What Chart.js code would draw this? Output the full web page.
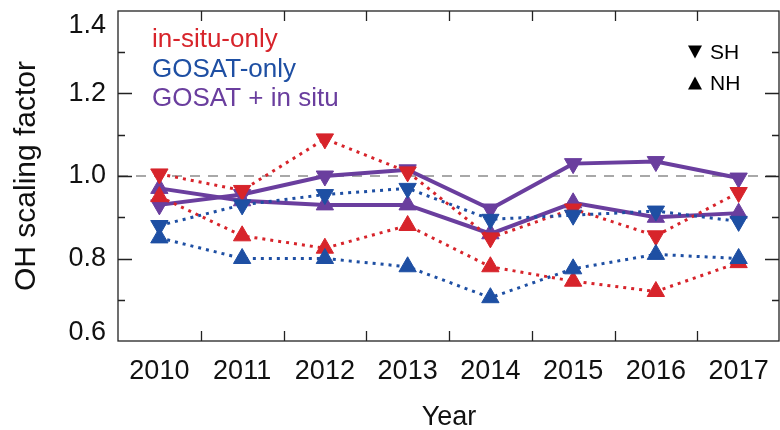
<!DOCTYPE html>
<html>
<head>
<meta charset="utf-8">
<title>OH scaling factor</title>
<script src="https://cdn.jsdelivr.net/npm/chart.js@4.4.1/dist/chart.umd.min.js"></script>
<style>
    html, body { margin: 0; padding: 0; background: #fff; }
    #wrap { width: 780px; height: 430px; }
</style>
</head>
<body>
<div id="wrap"><canvas id="oh-chart" width="780" height="430"></canvas></div>
<script>
// categories and tick labels
const years = ['2010', '2011', '2012', '2013', '2014', '2015', '2016', '2017'];
const yTicks = [0.6, 0.8, 1.0, 1.2, 1.4];

// values (SH = down triangles, NH = up triangles)
const inSituSH = [1.005, 0.965, 1.09, 1.01, 0.85, 0.92, 0.855, 0.96];
const inSituNH = [0.95, 0.855, 0.825, 0.88, 0.78, 0.745, 0.72, 0.79];
const gosatSH  = [0.88, 0.93, 0.955, 0.97, 0.895, 0.905, 0.915, 0.89];
const gosatNH  = [0.85, 0.80, 0.80, 0.78, 0.705, 0.775, 0.81, 0.80];
const jointSH  = [0.93, 0.955, 1.00, 1.015, 0.92, 1.03, 1.035, 0.995];
const jointNH  = [0.97, 0.94, 0.93, 0.93, 0.86, 0.935, 0.90, 0.91];

const seriesNames = ['in-situ-only', 'GOSAT-only', 'GOSAT + in situ'];
const hemiNames = ['SH', 'NH'];

const RED = '#d7242b';
const BLUE = '#1e4fa3';
const PURPLE = '#6a3e9e';
const FONT = '"Liberation Sans", Arial, Helvetica, sans-serif';

function makeSet(label, data, color, hemi, solid) {
    return {
        label: label + ' ' + hemi,
        data: data,
        borderColor: color,
        backgroundColor: color,
        borderWidth: solid ? 4 : 3,
        borderDash: solid ? [] : [3, 5],
        pointStyle: 'triangle',
        pointRotation: hemi === 'SH' ? 180 : 0,
        pointRadius: 10,
        pointBorderWidth: 1,
        pointBorderColor: color,
        tension: 0
    };
}

// frame, inward ticks, dashed 1.0 line, y labels and the text legends
const framePlugin = {
    id: 'frame',
    beforeDatasetsDraw(chart) {
        const { ctx, chartArea: a, scales } = chart;
        const y1 = scales.y.getPixelForValue(1.0);
        ctx.save();
        ctx.strokeStyle = '#8c8c8c';
        ctx.lineWidth = 1.5;
        ctx.setLineDash([10, 8]);
        ctx.beginPath();
        ctx.moveTo(a.left, y1);
        ctx.lineTo(a.right, y1);
        ctx.stroke();
        ctx.restore();
    },
    afterDraw(chart) {
        const { ctx, chartArea: a, scales } = chart;
        const right = Math.min(a.right, chart.width) - 1;
        ctx.save();
        ctx.strokeStyle = '#222';
        ctx.lineWidth = 1.3;
        ctx.strokeRect(a.left, a.top, right - a.left, a.bottom - a.top);

        // y ticks every 0.1, longer on 0.2
        for (let i = 1; i < 8; i++) {
            const v = 0.6 + i * 0.1;
            const py = Math.round(scales.y.getPixelForValue(v)) + 0.5;
            const len = i % 2 === 0 ? 14 : 7;
            ctx.beginPath();
            ctx.moveTo(a.left, py); ctx.lineTo(a.left + len, py);
            ctx.moveTo(right, py); ctx.lineTo(right - len, py);
            ctx.stroke();
        }
        // x ticks between the years
        for (let i = 0; i < years.length - 1; i++) {
            const px = Math.round((scales.x.getPixelForValue(i) + scales.x.getPixelForValue(i + 1)) / 2) + 0.5;
            ctx.beginPath();
            ctx.moveTo(px, a.bottom); ctx.lineTo(px, a.bottom - 10);
            ctx.moveTo(px, a.top); ctx.lineTo(px, a.top + 10);
            ctx.stroke();
        }

        // y tick labels (end ones kept inside the frame as in the figure)
        ctx.fillStyle = '#111';
        ctx.font = '27px ' + FONT;
        ctx.textAlign = 'right';
        ctx.textBaseline = 'middle';
        yTicks.forEach(v => {
            let py = scales.y.getPixelForValue(v);
            py = Math.max(a.top + 15, Math.min(a.bottom - 8, py));
            ctx.fillText(v.toFixed(1), a.left - 12, py);
        });

        // series legend
        const colors = [RED, BLUE, PURPLE];
        const rows = [40, 70, 99];
        ctx.textAlign = 'left';
        ctx.font = '26px ' + FONT;
        seriesNames.forEach((name, i) => {
            ctx.fillStyle = colors[i];
            ctx.fillText(name, 152, rows[i]);
        });

        // hemisphere key
        ctx.fillStyle = '#000';
        ctx.font = '21px ' + FONT;
        const keyRows = [52, 83];
        hemiNames.forEach((h, i) => {
            const cy = keyRows[i];
            const dir = h === 'SH' ? 1 : -1;
            ctx.beginPath();
            ctx.moveTo(688, cy - dir * 6.5);
            ctx.lineTo(702, cy - dir * 6.5);
            ctx.lineTo(695, cy + dir * 6.5);
            ctx.closePath();
            ctx.fill();
            ctx.fillText(h, 710, cy + 1);
        });
        ctx.restore();
    }
};

new Chart(document.getElementById('oh-chart').getContext('2d'), {
    type: 'line',
    data: {
        labels: years,
        datasets: [
            makeSet(seriesNames[1], gosatSH, BLUE, 'SH', false),
            makeSet(seriesNames[1], gosatNH, BLUE, 'NH', false),
            makeSet(seriesNames[0], inSituSH, RED, 'SH', false),
            makeSet(seriesNames[0], inSituNH, RED, 'NH', false),
            makeSet(seriesNames[2], jointSH, PURPLE, 'SH', true),
            makeSet(seriesNames[2], jointNH, PURPLE, 'NH', true)
        ]
    },
    options: {
        responsive: false,
        animation: false,
        layout: { autoPadding: false, padding: { top: 11, right: 0, left: 0, bottom: 0 } },
        plugins: {
            legend: { display: false },
            tooltip: { enabled: false }
        },
        scales: {
            x: {
                type: 'category',
                offset: true,
                grid: { display: false, drawTicks: false },
                border: { display: false },
                ticks: {
                    color: '#111',
                    font: { family: FONT, size: 27 },
                    padding: 14,
                    maxRotation: 0,
                    autoSkip: false
                },
                title: {
                    display: true,
                    text: 'Year',
                    color: '#111',
                    font: { family: FONT, size: 27, lineHeight: 1 },
                    padding: { top: 0, bottom: -1 }
                },
                afterFit(scale) {
                    scale.height = 89;
                    scale.paddingLeft = 0;
                    scale.paddingRight = 0;
                }
            },
            y: {
                min: 0.6,
                max: 1.4,
                grid: { display: false, drawTicks: false },
                border: { display: false },
                ticks: { display: false, stepSize: 0.2 },
                title: {
                    display: true,
                    text: 'OH scaling factor',
                    color: '#111',
                    font: { family: FONT, size: 30, lineHeight: 1 },
                    padding: { top: 12, bottom: 0 }
                },
                afterFit(scale) { scale.width = 118; }
            }
        }
    },
    plugins: [framePlugin]
});
</script>
</body>
</html>
